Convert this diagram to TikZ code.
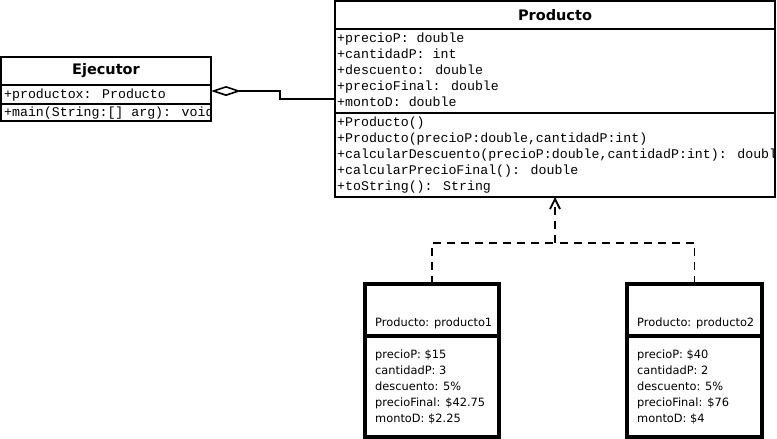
\documentclass[tikz,border=0pt]{standalone}
\usepackage{fontspec}
\usetikzlibrary{arrows.meta}
\newfontfamily\umlmono{Liberation Mono}
\newfontfamily\umlsans{DejaVu Sans}
\begin{document}
\begin{tikzpicture}[x=1pt,y=-1pt,
  classbox/.style={draw, line width=1.6pt, inner sep=0pt, outer sep=0pt, anchor=north west},
  objbox/.style={draw, line width=4.2pt, inner sep=0pt, outer sep=0pt, anchor=north west},
  title/.style={font=\umlsans\bfseries\fontsize{14.5}{16}\selectfont, inner sep=0pt},
  mono/.style={font=\umlmono\fontsize{13.25}{16}\selectfont, inner sep=0pt, anchor=base west},
  objtxt/.style={font=\umlsans\fontsize{11.4}{16}\selectfont, inner sep=0pt, anchor=base west},
  dep/.style={line width=1.8pt, dash pattern=on 8pt off 6pt},
  agg/.style={line width=1.6pt}
]
\useasboundingbox (0,0) rectangle (777,439);

% Producto class
\node[classbox, minimum width=440pt, minimum height=196pt] (prod) at (335,1) {};
\draw[line width=1.6pt] (prod.west |- 0,29) -- (prod.east |- 0,29);
\draw[line width=1.6pt] (prod.west |- 0,113) -- (prod.east |- 0,113);
\node[title] (prodt) at (555,15) {Producto};
\begin{scope}
\clip (prod.north west) rectangle ([xshift=-1pt]prod.south east);
\node[mono] (pa1) at (337,42) {+precioP: double};
\node[mono] (pa2) at (337,58) {+cantidadP: int};
\node[mono] (pa3) at (337,74) {+descuento: double};
\node[mono] (pa4) at (337,90) {+precioFinal: double};
\node[mono] (pa5) at (337,106) {+montoD: double};
\node[mono] (pm1) at (337,126) {+Producto()};
\node[mono] (pm2) at (337,142) {+Producto(precioP:double,cantidadP:int)};
\node[mono] (pm3) at (337,158) {+calcularDescuento(precioP:double,cantidadP:int): double};
\node[mono] (pm4) at (337,174) {+calcularPrecioFinal(): double};
\node[mono] (pm5) at (337,190) {+toString(): String};
\end{scope}

% Ejecutor class
\node[classbox, minimum width=210pt, minimum height=64pt] (ej) at (1,57) {};
\draw[line width=1.6pt] (ej.west |- 0,85) -- (ej.east |- 0,85);
\draw[line width=1.6pt] (ej.west |- 0,104) -- (ej.east |- 0,104);
\node[title] (ejt) at (106,71) {Ejecutor};
\begin{scope}
\clip (ej.north west) rectangle ([xshift=-1pt]ej.south east);
\node[mono] (ea1) at (4,98.5) {+productox: Producto};
\node[mono] (em1) at (4,116) {+main(String:[] arg): void};
\end{scope}

% aggregation
\draw[agg, {Diamond[open, fill=white, length=30pt, width=10pt]}-] ([yshift=-2pt]ej.east) -- ++(69,0) |- (prod.west);

% object boxes
\node[objbox, minimum width=134pt, minimum height=153pt] (o1) at (365,284) {};
\draw[line width=4.2pt] (o1.west |- 0,336) -- (o1.east |- 0,336);
\node[objtxt] (o1t) at (375,326) {Producto: producto1};
\node[objtxt] (o1a) at (375,358) {precioP: \$15};
\node[objtxt] (o1b) at (375,374) {cantidadP: 3};
\node[objtxt] (o1c) at (375,390) {descuento: 5\%};
\node[objtxt] (o1d) at (375,406) {precioFinal: \$42.75};
\node[objtxt] (o1e) at (375,422) {montoD: \$2.25};

\node[objbox, minimum width=135pt, minimum height=153pt] (o2) at (627,284) {};
\draw[line width=4.2pt] (o2.west |- 0,336) -- (o2.east |- 0,336);
\node[objtxt] (o2t) at (637,326) {Producto: producto2};
\node[objtxt] (o2a) at (637,358) {precioP: \$40};
\node[objtxt] (o2b) at (637,374) {cantidadP: 2};
\node[objtxt] (o2c) at (637,390) {descuento: 5\%};
\node[objtxt] (o2d) at (637,406) {precioFinal: \$76};
\node[objtxt] (o2e) at (637,422) {montoD: \$4};

% dependency connectors
\coordinate (j) at (555,243);
\draw[dep] (o1.north) |- (j);
\draw[dep] (o2.north) |- (j);
\draw[dep, -{Straight Barb[length=10pt, width=10pt]}] (j) -- (prod.south);
\end{tikzpicture}
\end{document}
